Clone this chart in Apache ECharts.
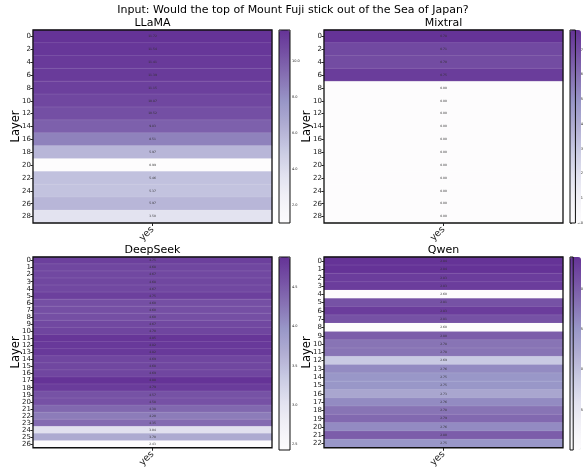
<!DOCTYPE html>
<html><head><meta charset="utf-8">
<script src="https://cdn.jsdelivr.net/npm/echarts@6/dist/echarts.min.js"></script>
<style>html,body{margin:0;padding:0;background:#fff}#c{width:586px;height:470px}</style>
</head><body><div id="c"></div>
<script>
const mainTitle = 'Input: Would the top of Mount Fuji stick out of the Sea of Japan?';
const xCategories = ['yes'];

const llamaLayers = ['0','2','4','6','8','10','12','14','16','18','20','22','24','26','28'];
const llamaValues = [11.72, 11.54, 11.41, 11.39, 11.15, 10.87, 10.52, 9.83, 8.51, 5.97, 0.99, 5.46, 5.37, 5.97, 3.50];
const llamaTicks = [2, 4, 6, 8, 10];

const mixtralLayers = ['0','2','4','6','8','10','12','14','16','18','20','22','24','26','28'];
const mixtralValues = [0.78, 0.71, 0.70, 0.75, 0.00, 0.00, 0.00, 0.00, 0.00, 0.00, 0.00, 0.00, 0.00, 0.00, 0.00];
const mixtralTicks = [0.0, 0.1, 0.2, 0.3, 0.4, 0.5, 0.6, 0.7];

const deepseekLayers = ['0','1','2','3','4','5','6','7','8','9','10','11','12','13','14','15','16','17','18','19','20','21','22','23','24','25','26'];
const deepseekValues = [4.75, 4.68, 4.67, 4.68, 4.67, 4.75, 4.60, 4.60, 4.60, 4.67, 4.70, 4.85, 4.82, 4.82, 4.69, 4.68, 4.69, 4.88, 4.79, 4.57, 4.58, 4.38, 4.20, 4.35, 3.04, 3.70, 2.43];
const deepseekTicks = [2.5, 3.0, 3.5, 4.0, 4.5];

const qwenLayers = ['0','1','2','3','4','5','6','7','8','9','10','11','12','13','14','15','16','17','18','19','20','21','22'];
const qwenValues = [2.84, 2.84, 2.83, 2.83, 2.60, 2.81, 2.83, 2.81, 2.60, 2.80, 2.78, 2.78, 2.69, 2.76, 2.75, 2.75, 2.73, 2.76, 2.78, 2.79, 2.76, 2.80, 2.75];
const qwenTicks = [2.65, 2.70, 2.75, 2.80];

const palette = ['#fdfcfd','#f2f1f7','#e1e1ef','#c9cae3','#b1aed3','#9997c8','#8874b5','#7652a5','#653397'];

const panels = [
  {name:'LLaMA', layers:llamaLayers, values:llamaValues, ticks:llamaTicks, dec:1, left:33, top:30, cbLeft:279},
  {name:'Mixtral', layers:mixtralLayers, values:mixtralValues, ticks:mixtralTicks, dec:1, left:324, top:30, cbLeft:570},
  {name:'DeepSeek', layers:deepseekLayers, values:deepseekValues, ticks:deepseekTicks, dec:1, left:33, top:257, cbLeft:279},
  {name:'Qwen', layers:qwenLayers, values:qwenValues, ticks:qwenTicks, dec:2, left:324, top:257, cbLeft:570}
];
const W = 239, H = 193, CBW = 11;

const option = {
  animation:false,
  textStyle:{fontFamily:'DejaVu Sans'},
  title:[{text:mainTitle, left:293, textAlign:'center', top:5, padding:0,
          textStyle:{fontSize:11, fontWeight:'normal', color:'#000'}}],
  grid:[], xAxis:[], yAxis:[], visualMap:[], series:[]
};

panels.forEach((p, i) => {
  const mn = Math.min(...p.values), mx = Math.max(...p.values);
  option.title.push({text:p.name, left:p.left + W/2, textAlign:'center', top:p.top - 12, padding:0,
    textStyle:{fontSize:11, fontWeight:'normal', color:'#000'}});
  option.grid.push({left:p.left, top:p.top, width:W, height:H, show:true, z:5,
    borderColor:'#111', borderWidth:1.3, backgroundColor:'transparent'});
  option.grid.push({left:p.cbLeft, top:p.top, width:CBW, height:H, show:true, z:10,
    borderColor:'#111', borderWidth:1, backgroundColor:'transparent'});
  option.xAxis.push({type:'category', gridIndex:2*i, data:xCategories,
    axisLine:{show:false}, axisTick:{show:true, alignWithLabel:true, length:3, lineStyle:{color:'#222'}},
    axisLabel:{rotate:45, fontSize:9.5, color:'#222', margin:5}, splitLine:{show:false}});
  option.xAxis.push({type:'value', gridIndex:2*i+1, min:0, max:1, show:false});
  option.yAxis.push({type:'category', gridIndex:2*i, data:p.layers, inverse:true,
    name:'Layer', nameLocation:'middle', nameGap:11, nameMoveOverlap:false,
    nameTextStyle:{fontSize:11.5, color:'#000'},
    axisLine:{show:false},
    axisTick:{show:true, alignWithLabel:true, interval:0, length:2.5, lineStyle:{color:'#222'}},
    axisLabel:{fontSize:7, color:'#222', margin:2, interval:0}, splitLine:{show:false}});
  option.yAxis.push({type:'value', gridIndex:2*i+1, position:'right', min:mn, max:mx,
    axisLine:{show:false}, splitLine:{show:false},
    axisTick:{show:true, length:2, customValues:p.ticks, lineStyle:{color:'#222', width:0.6}},
    axisLabel:{show:true, fontSize:3.5, color:'#222', margin:2, customValues:p.ticks,
      formatter:v => v.toFixed(p.dec)}});
  option.visualMap.push({type:'continuous', seriesIndex:i, min:mn, max:mx, calculable:false,
    orient:'vertical', left:p.cbLeft, top:p.top, itemWidth:CBW, itemHeight:H, padding:0,
    text:null, hoverLink:false, inRange:{color:palette}});
  option.series.push({type:'heatmap', xAxisIndex:2*i, yAxisIndex:2*i,
    data:p.values.map((v, j) => [0, j, v]),
    itemStyle:{borderColor:'rgba(255,255,255,0.2)', borderWidth:0.5},
    label:{show:true, fontSize:3, color:'#333', formatter:q => q.value[2].toFixed(2)},
    emphasis:{disabled:true}});
});

const chart = echarts.init(document.getElementById('c'), null, {renderer:'canvas'});
chart.setOption(option);
</script></body></html>
